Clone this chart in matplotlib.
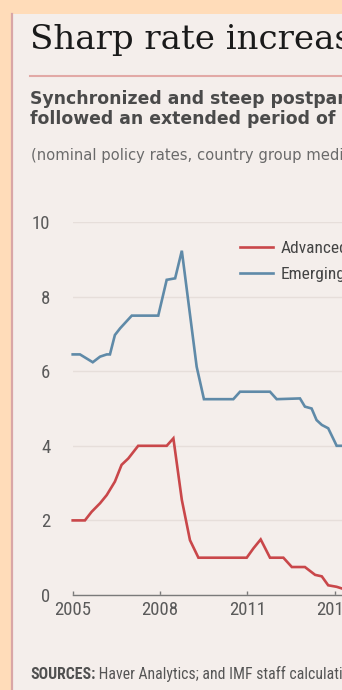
import matplotlib
matplotlib.use("Agg")
import matplotlib.pyplot as plt
from matplotlib.lines import Line2D
from matplotlib.patches import Rectangle

# Median nominal policy rates by country group (percent)
adv_years = [2005.0, 2005.42, 2005.65, 2005.94, 2006.17, 2006.45, 2006.68, 2006.91,
             2007.25, 2008.23, 2008.46, 2008.75, 2009.03, 2009.32, 2010.98, 2011.21,
             2011.46, 2011.78, 2012.24, 2012.53, 2012.98, 2013.33, 2013.56, 2013.78,
             2014.07, 2014.35]
adv_rates = [2.0, 2.0, 2.23, 2.46, 2.68, 3.04, 3.49, 3.66,
             4.0, 4.0, 4.2, 2.55, 1.47, 1.0, 1.0, 1.25,
             1.49, 1.0, 1.0, 0.75, 0.75, 0.54, 0.5, 0.26,
             0.22, 0.15]

emg_years = [2005.0, 2005.25, 2005.69, 2005.94, 2006.17, 2006.28, 2006.45, 2006.63,
             2007.03, 2007.94, 2008.23, 2008.52, 2008.75, 2009.26, 2009.51, 2010.52,
             2010.75, 2011.78, 2012.01, 2012.81, 2012.98, 2013.21, 2013.38, 2013.56,
             2013.78, 2014.01, 2014.07, 2014.35]
emg_rates = [6.45, 6.45, 6.24, 6.39, 6.45, 6.45, 6.97, 7.15,
             7.49, 7.49, 8.45, 8.49, 9.23, 6.12, 5.25, 5.25,
             5.45, 5.45, 5.25, 5.27, 5.05, 5.0, 4.69, 4.56,
             4.47, 4.1, 4.0, 4.0]

series_labels = ["Advanced", "Emerging"]
x_ticks = [2005, 2008, 2011, 2014]
y_ticks = [0, 2, 4, 6, 8, 10]

title = "Sharp rate increases"
subtitle = ["Synchronized and steep postpandemic hikes",
            "followed an extended period of low rates."]
note = "(nominal policy rates, country group medians, percent)"
source_head = "SOURCES:"
source_body = " Haver Analytics; and IMF staff calculations."

RED = "#c9474a"
BLUE = "#5f8aa8"
PEACH = "#ffdcb9"
PANEL = "#f4eeeb"
NARROW = ["Liberation Sans Narrow", "Roboto Condensed", "Roboto", "DejaVu Sans"]

W, H = 342, 690
fig = plt.figure(figsize=(W / 100, H / 100), dpi=100, facecolor=PEACH)


def fx(x):
    return x / W


def fy(y):
    return 1 - y / H


# panel and its left rule
fig.patches.append(Rectangle((fx(11), 0), 1, fy(14), transform=fig.transFigure,
                             facecolor=PANEL, edgecolor="none", zorder=-5))
fig.add_artist(Line2D([fx(12), fx(12)], [0, fy(14)], color="#d9a6a6", lw=1.6, zorder=-4))

fig.text(fx(30), fy(49), title, family="DejaVu Serif", fontsize=24.5,
         color="#1a1a1a", va="baseline")
fig.add_artist(Line2D([fx(30), 1], [fy(76), fy(76)], color="#e2a9a6", lw=1.5))
fig.text(fx(30), fy(104), subtitle[0], fontsize=12.4, fontweight="bold",
         color="#4a4a4a", va="baseline")
fig.text(fx(30), fy(124), subtitle[1], fontsize=12.4, fontweight="bold",
         color="#4a4a4a", va="baseline")
fig.text(fx(31), fy(160), note, fontsize=10.6, color="#6a6a6a", va="baseline")

head = fig.text(fx(30), fy(679), source_head, family=NARROW, fontsize=11.3,
                fontweight="bold", color="#505050", va="baseline")
fig.canvas.draw()
bb = head.get_window_extent()
fig.text(bb.x1 / fig.bbox.width, fy(679), source_body, family=NARROW, fontsize=11.3,
         color="#555555", va="baseline")

# axes: 2005 sits at x=72.7px, 29.1 px per year; 0 at y=595px, 10 at y=222px
x0, ppy = 72.7, 29.1
ax = fig.add_axes([fx(x0), fy(595), fx(W - x0), (595 - 222) / H])
ax.set_facecolor("none")
ax.set_xlim(2005, 2005 + (W - x0) / ppy)
ax.set_ylim(0, 10)

ax.plot(adv_years, adv_rates, color=RED, lw=1.9, label=series_labels[0],
        solid_joinstyle="miter", clip_on=False)
ax.plot(emg_years, emg_rates, color=BLUE, lw=1.9, label=series_labels[1],
        solid_joinstyle="miter", clip_on=False)

for s in ["top", "right", "left"]:
    ax.spines[s].set_visible(False)
ax.spines["bottom"].set_color("#7a7a7a")
ax.spines["bottom"].set_linewidth(1.0)

ax.set_yticks(y_ticks)
ax.set_yticklabels([str(v) for v in y_ticks])
ax.set_xticks(x_ticks)
ax.set_xticklabels([str(v) for v in x_ticks])
ax.grid(axis="y", color="#e6deda", lw=1.0)
ax.set_axisbelow(True)
ax.tick_params(axis="y", length=0, pad=16)
ax.tick_params(axis="x", direction="in", length=3, width=1.0, color="#7a7a7a", pad=4)
for lab in ax.get_xticklabels() + ax.get_yticklabels():
    lab.set_family(NARROW)
    lab.set_fontsize(13.5)
    lab.set_color("#5a5a5a")

leg = ax.legend(loc="upper left", bbox_to_anchor=(fx(240), fy(241)),
                bbox_transform=fig.transFigure, frameon=False, borderpad=0,
                borderaxespad=0, handlelength=1.9, handletextpad=0.42,
                labelspacing=0.6, prop={"family": NARROW, "size": 12.5})
for t in leg.get_texts():
    t.set_color("#444444")

fig.savefig("out.png", dpi=100, facecolor=PEACH)
